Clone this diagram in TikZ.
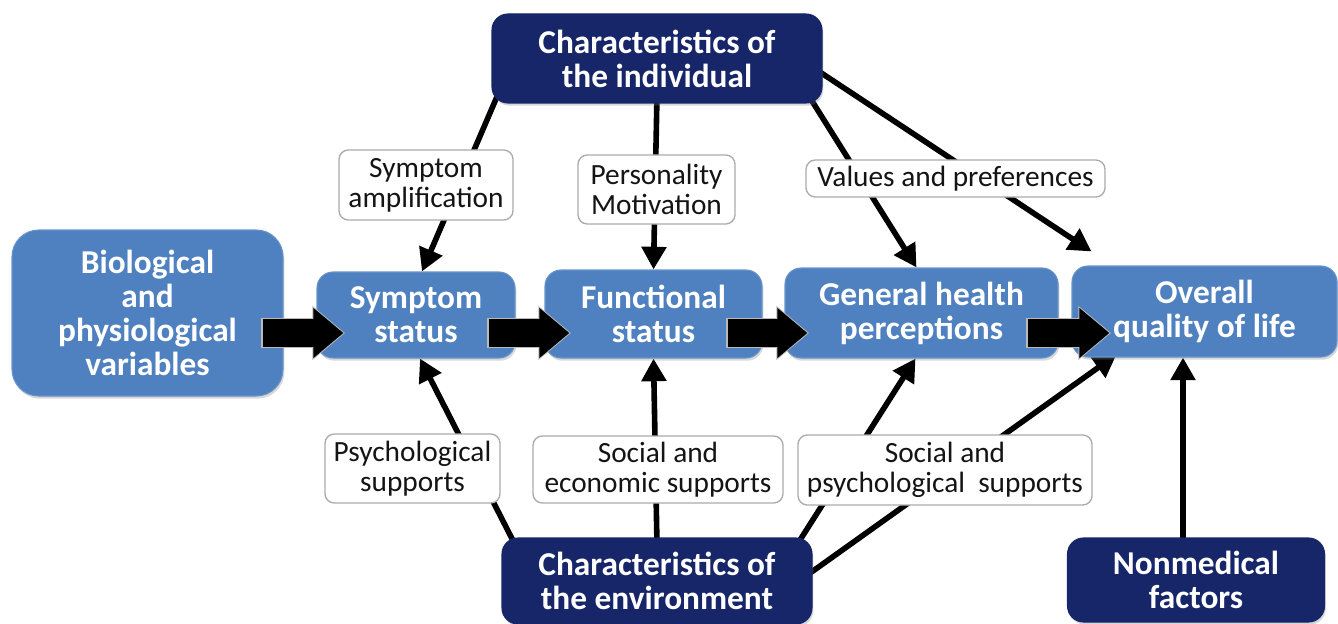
\documentclass[tikz,border=0pt]{standalone}
\usepackage{fontspec}
\setmainfont{Carlito}
\usetikzlibrary{arrows.meta,calc,shadows}
\definecolor{lblue}{RGB}{79,129,192}
\definecolor{navy}{RGB}{22,38,104}
\pgfdeclarelayer{bg}
\pgfsetlayers{bg,main}
\begin{document}
\begin{tikzpicture}[x=0.75pt,y=-0.75pt,
  bluebox/.style={rectangle, rounded corners=12pt, fill=lblue, draw=lblue!85!white, line width=0.8pt,
    text=white, font=\bfseries\fontsize{25}{25.5}\selectfont, align=center, inner sep=0pt,
    drop shadow={shadow xshift=1pt, shadow yshift=-2pt, opacity=0.3}},
  navybox/.style={bluebox, fill=navy, draw=navy},
  lbl/.style={rectangle, rounded corners=7pt, draw=gray!65, line width=1pt, fill=white,
    text=black!92, font=\fontsize{22}{22.5}\selectfont, align=center, inner sep=0pt},
  conn/.style={line width=4.2pt, -{Triangle[length=17pt,width=18pt]}},
  bigarrow/.style={line width=21pt, -{Triangle[length=22.5pt,width=36pt]}, black},
  bigrim/.style={line width=23pt, -{Triangle[length=24.5pt,width=39pt]}, gray!55, shorten <=-1pt, shorten >=-1.2pt}
]
\begin{pgfonlayer}{bg}
\fill[white] (0,0) rectangle (1338,624);
\end{pgfonlayer}
\useasboundingbox (0,0) rectangle (1338,624);

% main boxes
\node[navybox, minimum width=247.5pt, minimum height=66.75pt] (top) at (657,58.5) {Characteristics of\\the individual};
\node[bluebox, rounded corners=20pt, minimum width=203.25pt, minimum height=124.5pt] (bio) at (147.5,313) {Biological\\and\\physiological\\variables};
\node[bluebox, minimum width=148.5pt, minimum height=64.5pt] (sym) at (416,315) {Symptom\\status};
\node[bluebox, minimum width=162.75pt, minimum height=66pt] (fun) at (653.5,314) {Functional\\status};
\node[bluebox, minimum width=204.75pt, minimum height=67.5pt] (gen) at (921.5,313) {General health\\perceptions};
\node[bluebox, minimum width=198.75pt, minimum height=68.25pt] (ovr) at (1204.5,311.5) {Overall\\quality of life};
\node[navybox, minimum width=232.5pt, minimum height=64.5pt] (env) at (657,581) {Characteristics of\\the environment};
\node[navybox, minimum width=192.75pt, minimum height=63pt] (non) at (1196,580) {Nonmedical\\factors};

% thin connectors (behind boxes)
\begin{pgfonlayer}{bg}
\draw[conn] ($(top.south west)+(6,-8)$) -- ($(sym.north)+(6,0)$);
\draw[conn] ($(top.south)+(0,-8)$) -- (fun.north);
\draw[conn] ($(top.south east)+(-14,-8)$) -- ($(gen.north)+(-5,0)$);
\draw[conn] ($(top.east)+(-8,10)$) -- ($(ovr.north west)+(20,-14)$);
\draw[conn] ($(env.north west)+(14,8)$) -- ($(sym.south)+(4,0)$);
\draw[conn] ($(env.north)+(0,8)$) -- (fun.south);
\draw[conn] ($(env.north east)+(-16,8)$) -- ($(gen.south)+(-6,0)$);
\draw[conn] ($(env.east)+(-8,-4)$) -- ($(ovr.south west)+(45,-3)$);
\draw[conn] ($(non.north)+(-13,8)$) coordinate (n1) -- (n1 |- ovr.south);
\end{pgfonlayer}

% label boxes
\node[lbl, minimum width=130.5pt, minimum height=52.5pt] (la) at (426,185) {Symptom\\amplification};
\node[lbl, minimum width=117.75pt, minimum height=51.75pt] (lb) at (656.5,189.5) {Personality\\Motivation};
\node[lbl, minimum width=224.25pt, minimum height=27.75pt] (lc) at (955.5,178.5) {Values and preferences};
\node[lbl, minimum width=131.25pt, minimum height=51.75pt] (ld) at (412.5,468.5) {Psychological\\supports};
\node[lbl, minimum width=187.5pt, minimum height=50.25pt] (le) at (658,469.5) {Social and\\economic supports};
\node[lbl, minimum width=220.5pt, minimum height=52.5pt] (lf) at (945,470) {Social and\\psychological\ \ supports};

% big block arrows
\draw[bigrim] ($(bio.east)+(-21,20)$) -- ($(sym.west)+(27,18)$);
\draw[bigarrow] ($(bio.east)+(-21,20)$) -- ($(sym.west)+(27,18)$);
\draw[bigrim] ($(sym.east)+(-27,18)$) -- ($(fun.west)+(25,19)$);
\draw[bigarrow] ($(sym.east)+(-27,18)$) -- ($(fun.west)+(25,19)$);
\draw[bigrim] ($(fun.east)+(-35,19)$) -- ($(gen.west)+(23,20)$);
\draw[bigarrow] ($(fun.east)+(-35,19)$) -- ($(gen.west)+(23,20)$);
\draw[bigrim] ($(gen.east)+(-31,20)$) -- ($(ovr.west)+(38,21.5)$);
\draw[bigarrow] ($(gen.east)+(-31,20)$) -- ($(ovr.west)+(38,21.5)$);
\end{tikzpicture}
\end{document}
